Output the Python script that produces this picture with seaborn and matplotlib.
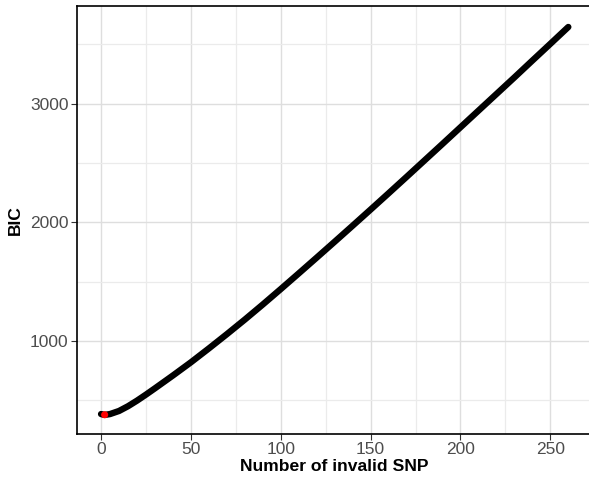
import matplotlib
matplotlib.use("Agg")
import matplotlib.pyplot as plt
import seaborn as sns
import pandas as pd
from matplotlib.ticker import MultipleLocator

# Values
n_invalid = [0, 1, 2, 3, 5, 10, 15, 20, 25, 30, 40, 50, 60, 70, 80, 90, 100,
             110, 120, 130, 140, 150, 160, 170, 180, 190, 200, 210, 220, 230,
             240, 250, 260]
bic = [384, 380, 378, 379, 384, 410, 450, 497, 548, 601, 709, 820, 937, 1057,
       1180, 1307, 1437, 1569, 1702, 1836, 1971, 2107, 2244, 2382, 2521, 2660,
       2800, 2940, 3080, 3220, 3362, 3503, 3645]
best_x = [2]
best_bic = [378]

x_ticks = [0, 50, 100, 150, 200, 250]
y_ticks = [1000, 2000, 3000]

df = pd.DataFrame({"k": n_invalid, "BIC": bic})
best = pd.DataFrame({"k": best_x, "BIC": best_bic})

sns.set_theme(style="white")
plt.rcParams["font.family"] = ["Liberation Sans", "DejaVu Sans"]

fig = plt.figure(figsize=(5.89, 4.82), dpi=100)
ax = fig.add_axes([0.1307, 0.0996, 0.8693 + 0.003, 0.888])

sns.lineplot(data=df, x="k", y="BIC", ax=ax, color="black", linewidth=4.6,
             solid_capstyle="round", solid_joinstyle="round", zorder=3)
sns.scatterplot(data=best, x="k", y="BIC", ax=ax, color="red", s=26,
                edgecolor="none", zorder=4)

ax.set_xlim(-13.4, 272.5)
ax.set_ylim(216, 3822)
ax.set_xticks(x_ticks)
ax.set_yticks(y_ticks)
ax.xaxis.set_minor_locator(MultipleLocator(25))
ax.yaxis.set_minor_locator(MultipleLocator(500))

ax.grid(which="major", color="#DEDEDE", linewidth=1.0, zorder=0)
ax.grid(which="minor", color="#EBEBEB", linewidth=0.9, zorder=0)
ax.set_axisbelow(True)

for side in ["top", "left", "bottom"]:
    ax.spines[side].set_visible(True)
    ax.spines[side].set_color("black")
    ax.spines[side].set_linewidth(1.2)
ax.spines["right"].set_visible(False)

ax.tick_params(axis="both", which="major", length=4, width=0.8,
               color="#333333", labelcolor="#4D4D4D", labelsize=12.5, pad=2,
               bottom=True, left=True)
ax.tick_params(axis="both", which="minor", length=0)

ax.set_xlabel("Number of invalid SNP", fontsize=12.6, fontweight="bold",
              color="black", labelpad=1)
ax.set_ylabel("BIC", fontsize=12.6, fontweight="bold", color="black",
              labelpad=5)

fig.savefig("out.png", dpi=100)
